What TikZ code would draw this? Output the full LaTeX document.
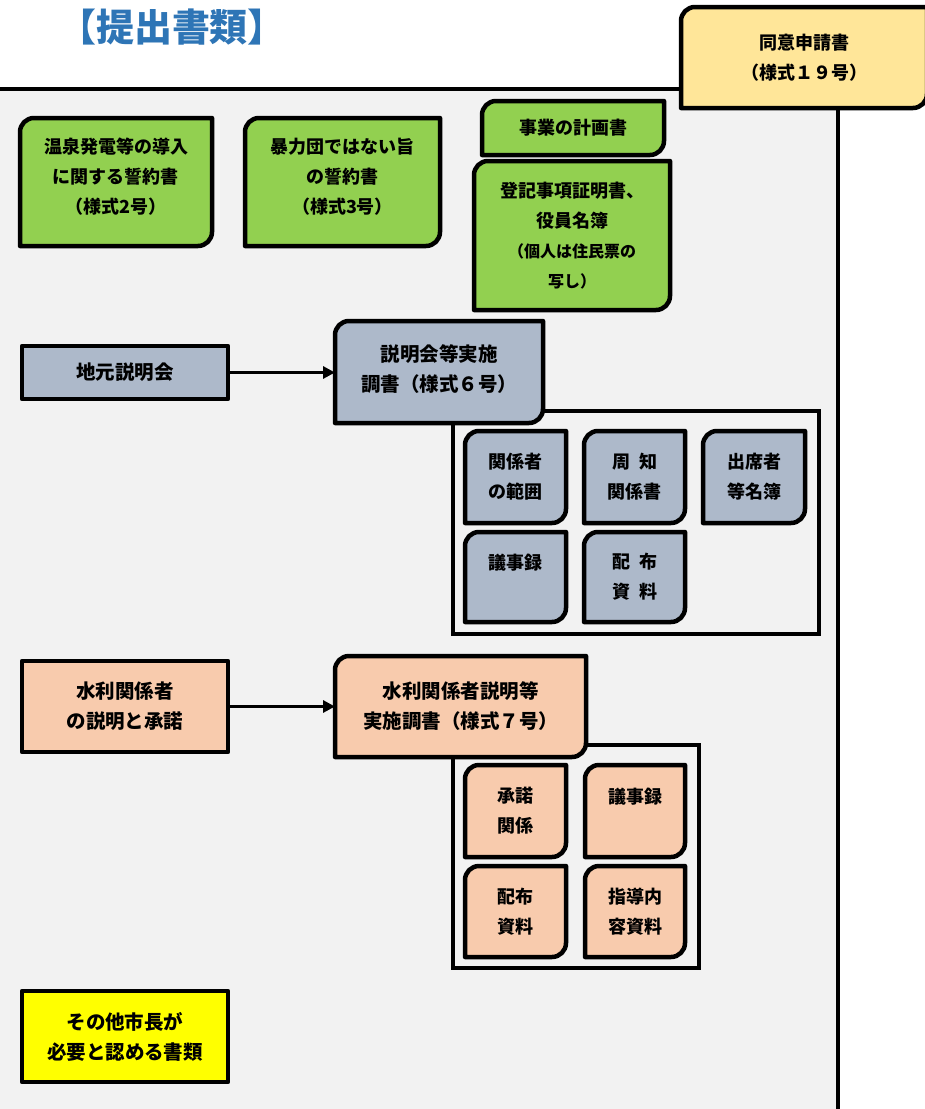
\documentclass[tikz,border=0pt]{standalone}
\usepackage{fontspec}
\setmainfont{Noto Sans CJK JP}
\usetikzlibrary{arrows.meta,calc}
\pgfdeclarelayer{bg}
\pgfdeclarelayer{shp}
\pgfsetlayers{bg,shp,main}
\definecolor{cgreen}{HTML}{92D050}
\definecolor{cblue}{HTML}{ADB9CA}
\definecolor{cpeach}{HTML}{F8CBAD}
\definecolor{clyellow}{HTML}{FFE699}
\definecolor{cyellow}{HTML}{FFFF00}
\definecolor{cgray}{HTML}{F2F2F2}
\definecolor{ctitle}{HTML}{2E75B6}
\tikzset{
  txt/.style={inner sep=0pt, outer sep=0pt, align=center, font=\bfseries\fontsize{18}{30}\selectfont},
  edge/.style={line width=4.5pt, line join=round},
  frame/.style={line width=4pt},
  arr/.style={line width=3.5pt, -{Triangle[length=12pt,width=12pt]}},
}
% rounded document box: [text shift], name, x1, y1, x2, y2, fill, text
\newcommand\docbox[8][0]{%
  \node[txt, minimum width={#5-#3}, minimum height={#6-#4}] (#2) at ({(#3+#5)/2},{(#4+#6)/2-#1}) {#8};
  \begin{pgfonlayer}{shp}
  \draw[edge, fill=#7] (#3,#4+14) arc[start angle=180,end angle=270,radius=14] -- (#5,#4) -- (#5,#6-14) arc[start angle=0,end angle=90,radius=14] -- (#3,#6) -- cycle;
  \end{pgfonlayer}}
% plain box
\newcommand\plainbox[7]{%
  \node[txt, minimum width={#4-#2}, minimum height={#5-#3}] (#1) at ({(#2+#4)/2},{(#3+#5)/2}) {#7};
  \begin{pgfonlayer}{shp}
  \draw[edge, fill=#6] (#2,#3) rectangle (#4,#5);
  \end{pgfonlayer}}
\newcommand\smtxt{\fontsize{16}{29}\selectfont}
\newcommand\lgtxt{\fontsize{19.5}{33}\selectfont}
\begin{document}
\begin{tikzpicture}[x=1pt,y=-1pt]
\useasboundingbox (0,0) rectangle (925,1109);
\begin{pgfonlayer}{bg}
  \fill[white] (0,0) rectangle (925,1109);
  \fill[cgray] (0,89) rectangle (838,1109);
  \draw[frame] (0,89) -- (690,89);
  \draw[frame] (838,100) -- (838,1112);
\end{pgfonlayer}

\node[inner sep=0pt, text=ctitle, font=\bfseries\fontsize{38}{38}\selectfont] (title) at (172,27) {【提出書類】};

\docbox{doui}{681}{7}{927}{108}{clyellow}{同意申請書\\（様式１９号）}

\docbox[5]{g1}{20}{118}{212}{246}{cgreen}{温泉発電等の導入\\に関する誓約書\\（様式2号）}
\docbox[5]{g2}{245}{118}{440}{246}{cgreen}{暴力団ではない旨\\の誓約書\\（様式3号）}
\docbox{g3}{482}{101}{664}{155}{cgreen}{事業の計画書}
\docbox{g4}{474}{161}{670}{310}{cgreen}{登記事項証明書、\\役員名簿\\{\smtxt（個人は住民票の}\\{\smtxt 写し）}}

\plainbox{jimoto}{22}{346}{228}{399}{cblue}{\lgtxt 地元説明会}
\begin{pgfonlayer}{shp}
  \draw[frame] (453,411) rectangle (819,634);
\end{pgfonlayer}
\docbox[3]{chosho6}{335}{321}{543}{423}{cblue}{\lgtxt 説明会等実施\\ \lgtxt 調書（様式６号）}
\docbox{b1}{465}{431}{566}{523}{cblue}{関係者\\の範囲}
\docbox{b2}{584}{431}{685}{523}{cblue}{周\hspace{0.5em}知\\関係書}
\docbox{b3}{703}{431}{805}{523}{cblue}{出席者\\等名簿}
\docbox{b4}{465}{532}{566}{622}{cblue}{議事録\\\mbox{}}
\docbox{b5}{584}{532}{685}{622}{cblue}{配\hspace{0.5em}布\\資\hspace{0.5em}料}
\draw[arr] (jimoto.east) -- (jimoto.east -| chosho6.west);

\plainbox{suiri}{22}{661}{228}{752}{cpeach}{\lgtxt 水利関係者\\ \lgtxt の説明と承諾}
\begin{pgfonlayer}{shp}
  \draw[frame] (453,745) rectangle (699,968);
\end{pgfonlayer}
\docbox{chosho7}{335}{656}{586}{757}{cpeach}{\lgtxt 水利関係者説明等\\ \lgtxt 実施調書（様式７号）}
\docbox{p1}{465}{765}{566}{857}{cpeach}{承諾\\関係}
\docbox{p2}{585}{765}{685}{857}{cpeach}{議事録\\\mbox{}}
\docbox{p3}{465}{866}{566}{957}{cpeach}{配布\\資料}
\docbox{p4}{585}{866}{685}{957}{cpeach}{指導内\\容資料}
\draw[arr] (suiri.east) -- (suiri.east -| chosho7.west);

\plainbox{sonota}{22}{991}{228}{1082}{cyellow}{\lgtxt その他市長が\\ \lgtxt 必要と認める書類}
\end{tikzpicture}
\end{document}
